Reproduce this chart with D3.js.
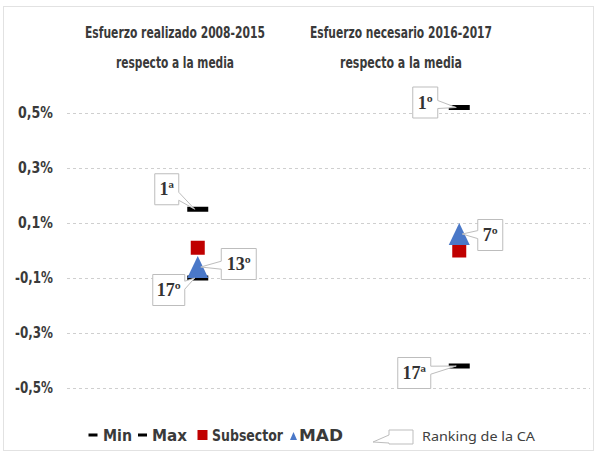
<!DOCTYPE html>
<html>
<head>
<meta charset="utf-8">
<script src="https://cdn.jsdelivr.net/npm/d3@7"></script>
<style>
  body { margin: 0; background: #fff; }
</style>
</head>
<body>
<svg id="chart"></svg>
<script>
// datos
const categories = ["Esfuerzo realizado 2008-2015", "Esfuerzo necesario 2016-2017"];
const titleSecondLine = ["respecto a la media", "respecto a la media"];
const minValues = [-0.10, -0.42];
const maxValues = [0.15, 0.52];
const subsectorValues = [0.01, 0.00];
const madValues = [-0.06, 0.06];
const minRanks = ["17º", "17ª"];
const maxRanks = ["1ª", "1º"];
const madRanks = ["13º", "7º"];
const yTicks = [0.5, 0.3, 0.1, -0.1, -0.3, -0.5];
const legendLabels = ["Min", "Max", "Subsector", "MAD", "Ranking de la CA"];

const W = 597, H = 454;
const svg = d3.select("#chart").attr("width", W).attr("height", H);
const condensed = "'DejaVu Sans Condensed', 'DejaVu Sans', sans-serif";
const serif = "'Liberation Serif', 'DejaVu Serif', serif";

// marco del gráfico
svg.append("rect")
    .attr("x", 3.5).attr("y", 6.5)
    .attr("width", 590).attr("height", 444)
    .style("fill", "none")
    .style("stroke", "#e2e2e2");

const x = d3.scalePoint().domain(categories).range([67, 590]).padding(0.5);
const y = d3.scaleLinear().domain([-0.5, 0.5]).range([388, 113]);

// eje Y + rejilla
const fmt = d => d3.format(".1f")(d).replace("−", "-").replace(".", ",") + "%";
const yAxis = svg.append("g")
    .attr("transform", "translate(67,0)")
    .call(d3.axisLeft(y).tickValues(yTicks).tickSize(-(590 - 67)).tickPadding(14).tickFormat(fmt));
yAxis.select(".domain").remove();
yAxis.selectAll(".tick line")
    .style("stroke", "#cfcfcf")
    .style("stroke-dasharray", "3,3");
yAxis.selectAll(".tick text")
    .style("font-family", condensed)
    .style("font-weight", "bold")
    .style("font-size", "15px")
    .style("fill", "#3a3a3a")
    .attr("textLength", d => d < 0 ? 38 : 35)
    .attr("lengthAdjust", "spacingAndGlyphs");

// títulos
const titlePos = [[175, 38, 68, 180, 118], [401, 38, 68, 182, 122]];
categories.forEach((c, i) => {
    const p = titlePos[i];
    [c, titleSecondLine[i]].forEach((t, j) => {
        svg.append("text")
            .attr("x", p[0]).attr("y", j === 0 ? p[1] : p[2])
            .attr("text-anchor", "middle")
            .attr("textLength", j === 0 ? p[3] : p[4])
            .attr("lengthAdjust", "spacingAndGlyphs")
            .style("font-family", condensed)
            .style("font-weight", "bold")
            .style("font-size", "16px")
            .style("fill", "#3a3a3a")
            .text(t);
    });
});

// marcadores
const dash = (g, cx, cy, w, h) => g.append("rect")
    .attr("x", cx - w / 2).attr("y", cy - h / 2)
    .attr("width", w).attr("height", h)
    .style("fill", "#000");

const square = (g, cx, cy, s) => g.append("rect")
    .attr("x", cx - s / 2).attr("y", cy - s / 2)
    .attr("width", s).attr("height", s)
    .style("fill", "#c00000");

const triangle = (g, cx, cy, w, h) => g.append("path")
    .attr("d", `M${cx},${cy - h / 2}L${cx + w / 2},${cy + h / 2}L${cx - w / 2},${cy + h / 2}Z`)
    .style("fill", "#4a78c8");

const marks = svg.append("g");
categories.forEach((c, i) => {
    const cx = x(c);
    dash(marks, cx, y(minValues[i]), 21, 5);
    dash(marks, cx, y(maxValues[i]), 21, 5);
    square(marks, cx, y(subsectorValues[i]), 14);
    triangle(marks, cx, y(madValues[i]), 21, 22);
});

// llamadas (callouts)
function callout(g, bx, by, bw, bh, px, py) {
    const l = bx - bw / 2, r = bx + bw / 2, t = by - bh / 2, b = by + bh / 2;
    const shift = Math.max(-7, Math.min(7, (py - by) * 0.4));
    const y1 = by + shift - 4, y2 = by + shift + 4;
    const tipX = px + (px > bx ? -3 : 3);
    let d;
    if (px > bx) {
        d = `M${l},${t}L${r},${t}L${r},${y1}L${tipX},${py}L${r},${y2}L${r},${b}L${l},${b}Z`;
    } else {
        d = `M${l},${t}L${r},${t}L${r},${b}L${l},${b}L${l},${y2}L${tipX},${py}L${l},${y1}Z`;
    }
    return g.append("path")
        .attr("d", d)
        .style("fill", "#fff")
        .style("stroke", "#bdbdbd")
        .style("stroke-width", 1);
}

const labelOffsets = {
    max: [[-31, -20], [-34, -5]],
    mad: [[41, -3], [31, 1]],
    min: [[-29, 12], [-45, 7]]
};
const labelWidths = {
    max: [24, 25],
    mad: [35, 25],
    min: [32, 33]
};

const labels = svg.append("g");
function addLabel(key, values, texts) {
    categories.forEach((c, i) => {
        const px = x(c), py = y(values[i]);
        const bx = px + labelOffsets[key][i][0], by = py + labelOffsets[key][i][1];
        callout(labels, bx, by, labelWidths[key][i], 31, px, py);
        labels.append("text")
            .attr("x", bx).attr("y", by + 6)
            .attr("text-anchor", "middle")
            .style("font-family", serif)
            .style("font-weight", "bold")
            .style("font-size", "18px")
            .style("fill", "#333")
            .text(texts[i]);
    });
}
addLabel("max", maxValues, maxRanks);
addLabel("mad", madValues, madRanks);
addLabel("min", minValues, minRanks);

// leyenda
const leg = svg.append("g");
const ly = 435;
const legText = (tx, t, w, bold) => leg.append("text")
    .attr("x", tx).attr("y", ly + 6)
    .attr("textLength", w)
    .attr("lengthAdjust", "spacingAndGlyphs")
    .style("font-family", bold ? condensed : "'Noto Sans', sans-serif")
    .style("font-weight", bold ? "bold" : "normal")
    .style("font-size", bold ? "15px" : "13px")
    .style("fill", bold ? "#3a3a3a" : "#404040")
    .text(t);

dash(leg, 93, ly, 9, 3);
legText(103, legendLabels[0], 29, true);
dash(leg, 142.5, ly, 9, 3);
legText(152, legendLabels[1], 35, true);
square(leg, 202.5, ly, 10);
legText(212, legendLabels[2], 71, true);
triangle(leg, 293.5, ly + 1, 7, 8);
legText(299, legendLabels[3], 44, true);
callout(leg, 401, 437, 24, 14, 370, 442);
legText(422, legendLabels[4], 113, false);
</script>
</body>
</html>
